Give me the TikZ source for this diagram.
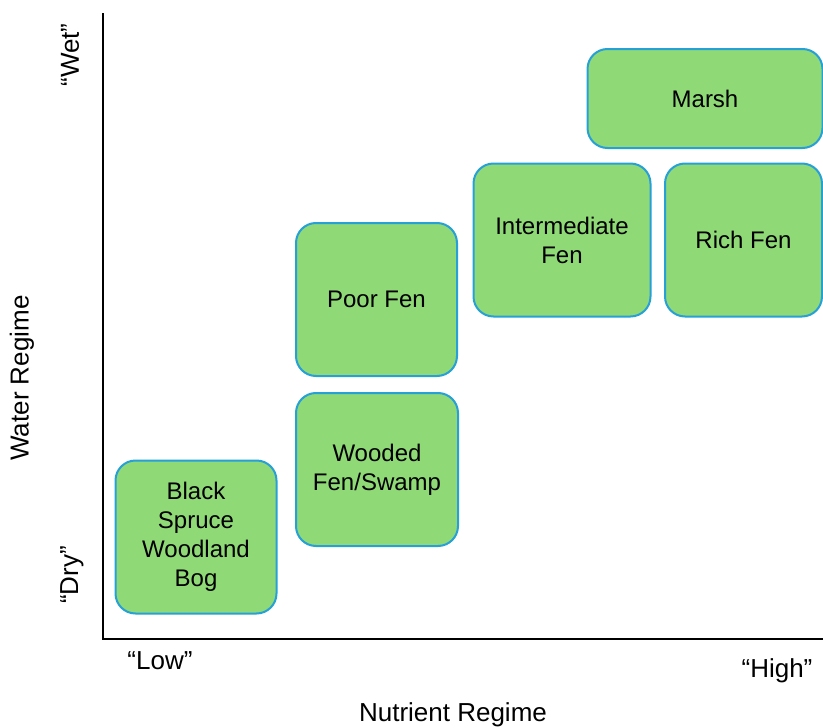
\documentclass[tikz,border=0pt]{standalone}
\usepackage{fontspec}
\setmainfont{Liberation Sans}
\usepackage{tikz}
\usetikzlibrary{positioning,calc}
\definecolor{wetgreen}{RGB}{143,217,118}
\definecolor{wetblue}{RGB}{38,160,214}
\newcommand{\boxfont}{\fontsize{24}{29}\selectfont}
\newcommand{\axisfont}{\fontsize{26}{30}\selectfont}

\begin{document}
\begin{tikzpicture}[x=1pt,y=-1pt,
  wetland/.style={draw=wetblue,line width=2pt,fill=wetgreen,rounded corners=20pt,
    align=center,font=\boxfont,inner sep=0pt},
  axislabel/.style={font=\axisfont,inner sep=0pt}]
%
  \useasboundingbox (0,0) rectangle (823,728);
%
  \coordinate (ytop) at (103,13);
  \coordinate (origin) at (103,639);
  \coordinate (xend) at (823,639);
  \draw[line width=2pt] (ytop) -- (origin) -- (xend);
%
  \node[wetland,minimum width=235pt,minimum height=99pt] (marsh) at (705,98.5) {Marsh};
  \node[wetland,minimum width=177pt,minimum height=153pt] (intfen) at (562,240) {Intermediate\\Fen};
  \node[wetland,minimum width=157pt,minimum height=153pt] (richfen) at (743.5,240) {Rich Fen};
  \node[wetland,minimum width=161pt,minimum height=153pt] (poorfen) at (376.5,299.5) {Poor Fen};
  \node[wetland,minimum width=162pt,minimum height=153pt] (wooded) at (377,469.5) {Wooded\\Fen/Swamp};
  \node[wetland,minimum width=161pt,minimum height=153pt] (bog) at (196,537) {Black\\Spruce\\Woodland\\Bog};
%
  \node[axislabel,rotate=90] (wet) at (70,55) {“Wet”};
  \node[axislabel,rotate=90] (dry) at (72,575) {“Dry”};
  \node[axislabel,rotate=90] (water) at (22,378) {Water Regime};
  \node[axislabel] (low) at (160,661) {“Low”};
  \node[axislabel] (high) at (777,671) {“High”};
  \node[axislabel] (nutrient) at (453,715) {Nutrient Regime};
\end{tikzpicture}
\end{document}
